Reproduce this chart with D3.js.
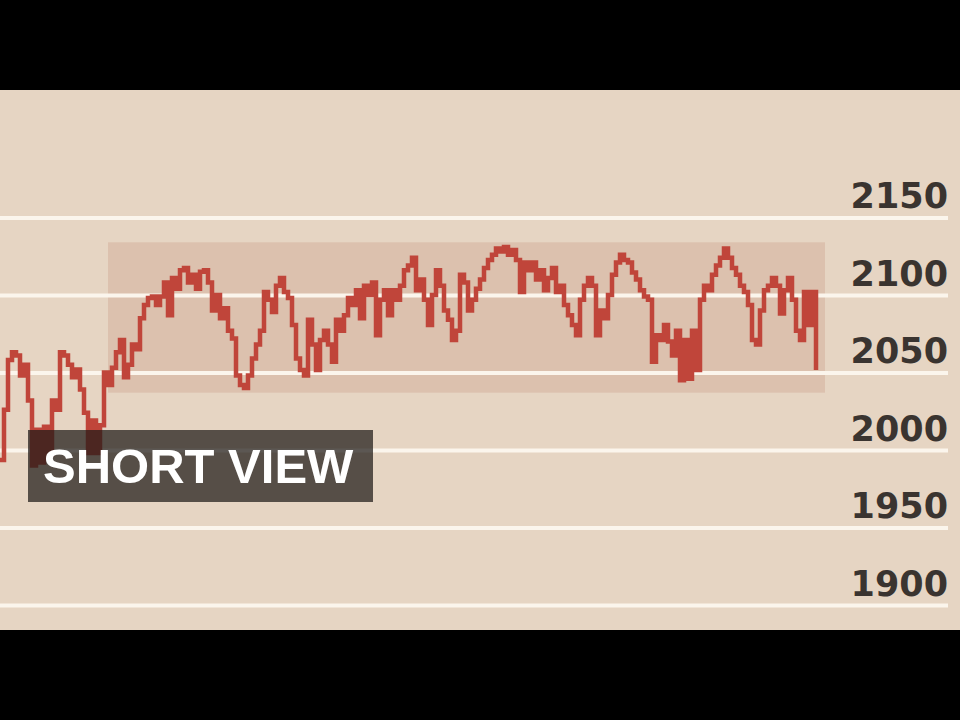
<!DOCTYPE html>
<html><head><meta charset="utf-8">
<script src="https://cdn.jsdelivr.net/npm/d3@7"></script>
<style>html,body{margin:0;padding:0;background:#000;}svg{display:block;}</style>
</head><body>
<svg id="chart" width="960" height="720"></svg>
<script>
// ---- data ----
const tickValues = [1900, 1950, 2000, 2050, 2100, 2150];
const tickLabels = ["1900", "1950", "2000", "2050", "2100", "2150"];
const bandRange = [2037, 2134];          // highlighted trading range
const bandIndexRange = [27, 206.25];     // period covered by the range
const title = "SHORT VIEW";
const values = [
1993.5,2026,2058,2063,2061,2048,2055,2032,1990,2013,1992,2015,1997,2032,2026,2063,
2061,2055,2047,2052,2039,2024,1998,2019,1998,2016,2050,2042,2053,2063,2071,2047,
2055,2068,2065,2085,2093.5,2098,2099,2093.5,2099,2108,2087,2111,2104,2116,2117.5,2108,
2113,2104,2115,2116,2108,2090,2100,2085,2091.5,2077,2072,2048,2042,2040,2048,2059,
2068,2077,2102,2097,2089,2106,2111,2102,2098,2080.6,2059,2051.6,2048,2084,2068,2051.6,
2071,2077,2068,2057,2084,2077,2087,2098,2093.5,2103,2085,2106,2100,2108,2074,2097,
2103,2087,2103,2097,2106,2116,2119,2124,2103,2110,2097,2080.6,2100,2116,2106,2090,
2084,2071,2077,2113,2108,2090,2097,2104,2110,2117.5,2122.6,2126,2130,2128,2131,2126,
2129,2122.6,2102,2121,2116,2121,2110,2116,2103,2111,2117.5,2102,2106,2093.5,2087,2080.6,
2074,2097,2106,2111,2106,2074,2090,2085,2100,2113,2121,2126,2122.6,2121,2114.5,2110,
2103,2099,2097,2057,2074,2071,2080.6,2070,2061,2077,2045,2071,2046,2077,2051.6,2097,
2106,2103,2113,2119,2124,2130,2124,2117.5,2113,2106,2102,2093.5,2071,2068,2090,2103,
2106,2111,2106,2088,2103,2111,2097,2077,2071,2102,2080.6,2102,2051.6
];

// ---- layout ----
const svg = d3.select("#chart");
const plotTop = 90, plotBottom = 630;

svg.append("rect").attr("x", 0).attr("y", plotTop).attr("width", 960)
  .attr("height", plotBottom - plotTop).attr("fill", "#e6d5c3");

const x = d3.scaleLinear().domain([0, values.length - 1]).range([0, 816]);
const y = d3.scaleLinear().domain([1900, 2150]).range([605, 217.5]);

// highlighted band
svg.append("rect")
  .attr("x", x(bandIndexRange[0]))
  .attr("width", x(bandIndexRange[1]) - x(bandIndexRange[0]))
  .attr("y", y(bandRange[1]))
  .attr("height", y(bandRange[0]) - y(bandRange[1]))
  .attr("fill", "#dcc1ae");

// axis with gridlines
const axisX = 948;
const axis = d3.axisLeft(y).tickValues(tickValues)
  .tickFormat((d, i) => tickLabels[i]).tickSize(axisX).tickPadding(0);
const g = svg.append("g").attr("transform", `translate(${axisX},0)`).call(axis);
g.select(".domain").remove();
g.selectAll(".tick line").attr("stroke", "#fbf5ec").attr("stroke-width", 4);
g.selectAll(".tick text")
  .attr("x", 0).attr("dy", -10).attr("y", 0)
  .attr("text-anchor", "end")
  .attr("fill", "#3a3430")
  .style("font-family", "'DejaVu Sans', sans-serif")
  .style("font-weight", "bold")
  .style("font-size", "35px");

// price line
const line = d3.line().x((d, i) => x(i)).y(d => y(d)).curve(d3.curveStepAfter);
svg.append("path").datum(values)
  .attr("d", line)
  .attr("fill", "none")
  .attr("stroke", "#c0453a")
  .attr("stroke-width", 4.5)
  .attr("stroke-linejoin", "miter");

// title box
svg.append("rect").attr("x", 28).attr("y", 430).attr("width", 345).attr("height", 72)
  .attr("fill", "#1e1a18").attr("fill-opacity", 0.72);
svg.append("text").attr("x", 43).attr("y", 483)
  .text(title)
  .attr("fill", "#ffffff")
  .style("font-family", "'Liberation Sans', Arial, sans-serif")
  .style("font-weight", "bold")
  .style("font-size", "49px");
</script>
</body></html>
